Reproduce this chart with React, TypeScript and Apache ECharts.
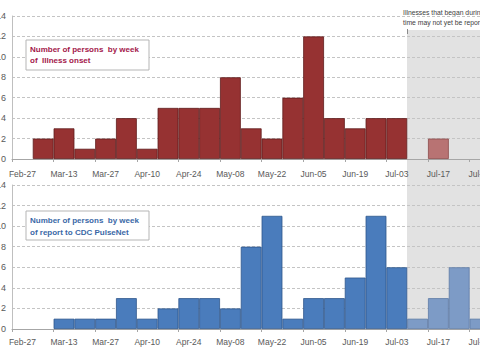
import React, { useEffect, useRef } from "react";
import * as echarts from "echarts";

const categories = ["Feb-27","Mar-06","Mar-13","Mar-20","Mar-27","Apr-03","Apr-10","Apr-17","Apr-24","May-01","May-08","May-15","May-22","May-29","Jun-05","Jun-12","Jun-19","Jun-26","Jul-03","Jul-10","Jul-17","Jul-24","Jul-31"];
const onsetCounts = [0,2,3,1,2,4,1,5,5,5,8,3,2,6,12,4,3,4,4,0,2,0,0];
const reportCounts = [0,0,1,1,1,3,1,2,3,3,2,8,11,1,3,3,5,11,6,1,3,6,1];
const recentStartIndex = 19;
const yTicks = [0, 2, 4, 6, 8, 10, 12, 14];
const topTitle = "Number of persons  by week\nof  Illness onset";
const bottomTitle = "Number of persons  by week\nof report to CDC PulseNet";
const noteText = "Illnesses that began during this\ntime may not yet be reported";

const OFF = 20; // chart div is shifted left by this many px
const FONT = "'Liberation Sans', Arial, sans-serif";

function buildData(values: number[], color: string, light: string, border: string, lightBorder: string) {
  return values.map((v, i) => ({
    value: v === 0 ? "-" : v,
    itemStyle: i >= recentStartIndex
      ? { color: light, borderColor: lightBorder, borderWidth: 0.8 }
      : { color, borderColor: border, borderWidth: 0.8 },
  }));
}

export default function App() {
  const ref = useRef<HTMLDivElement>(null);
  useEffect(() => {
    if (!ref.current) return;
    const chart = echarts.init(ref.current, null, { renderer: "svg" });
    const catW = 20.8;
    const gridW = categories.length * catW;
    const xAxisCommon = (gridIndex: number, margin: number) => ({
      type: "category",
      gridIndex,
      data: categories,
      boundaryGap: true,
      axisLine: { lineStyle: { color: "#a6a6a6", width: 1 } },
      axisTick: { show: true, interval: 1, length: 3, lineStyle: { color: "#a6a6a6" } },
      axisLabel: { interval: 1, margin, fontSize: 8.5, color: "#595959", fontFamily: FONT },
    });
    const yAxisCommon = (gridIndex: number) => ({
      type: "value",
      gridIndex,
      min: yTicks[0],
      max: yTicks[yTicks.length - 1],
      interval: 2,
      axisLine: { show: true, lineStyle: { color: "#bfbfbf" } },
      axisTick: { show: false },
      axisLabel: { margin: 6, fontSize: 9, color: "#595959", fontFamily: FONT },
      splitLine: { show: true, lineStyle: { color: "#c4c4c4", type: [3, 2], width: 1 } },
    });
    const option: any = {
      animation: false,
      backgroundColor: "#ffffff",
      grid: [
        { left: 12 + OFF, top: 16, width: gridW, height: 143 },
        { left: 12 + OFF, top: 185, width: gridW, height: 144 },
      ],
      xAxis: [xAxisCommon(0, 10), xAxisCommon(1, 8.5)],
      yAxis: [yAxisCommon(0), yAxisCommon(1)],
      graphic: [
        {
          type: "rect",
          z: -10,
          silent: true,
          shape: { x: 407 + OFF, y: 30, width: 140, height: 300 },
          style: { fill: "#e2e2e2" },
        },
        {
          type: "line",
          z: -9,
          shape: { x1: 407.5 + OFF, y1: 29, x2: 407.5 + OFF, y2: 34 },
          style: { stroke: "#8a8a8a", lineWidth: 1 },
        },
        {
          type: "text",
          x: 403 + OFF,
          y: 7,
          style: { text: noteText, fontSize: 6.8, lineHeight: 10, fill: "#404040", fontFamily: FONT },
        },
        {
          type: "rect",
          z: 10,
          shape: { x: 26 + OFF, y: 40, width: 123, height: 30 },
          style: { fill: "#ffffff", stroke: "#b5b5b5", lineWidth: 1 },
        },
        {
          type: "text",
          z: 11,
          x: 30 + OFF,
          y: 44,
          style: { text: topTitle, fontSize: 8, fontWeight: "bold", lineHeight: 11, fill: "#a3174a", fontFamily: FONT },
        },
        {
          type: "rect",
          z: 10,
          shape: { x: 26 + OFF, y: 211, width: 123, height: 29 },
          style: { fill: "#ffffff", stroke: "#b5b5b5", lineWidth: 1 },
        },
        {
          type: "text",
          z: 11,
          x: 30 + OFF,
          y: 214,
          style: { text: bottomTitle, fontSize: 8, fontWeight: "bold", lineHeight: 12, fill: "#3a68a6", fontFamily: FONT },
        },
      ],
      series: [
        {
          type: "bar",
          xAxisIndex: 0,
          yAxisIndex: 0,
          barCategoryGap: "0%",
          data: buildData(onsetCounts, "#963232", "#b87373", "#5e1c1c", "#8a4a4a"),
        },
        {
          type: "bar",
          xAxisIndex: 1,
          yAxisIndex: 1,
          barCategoryGap: "0%",
          data: buildData(reportCounts, "#4a7cbc", "#7d9bc6", "#2e578c", "#5d7ba6"),
        },
      ],
    };
    chart.setOption(option);
    return () => chart.dispose();
  }, []);
  return (
    <div style={{ position: "fixed", left: 0, top: 0, width: 480, height: 360, overflow: "hidden", background: "#fff" }}>
      <div ref={ref} style={{ position: "absolute", left: -OFF, top: 0, width: 540, height: 360 }} />
    </div>
  );
}
